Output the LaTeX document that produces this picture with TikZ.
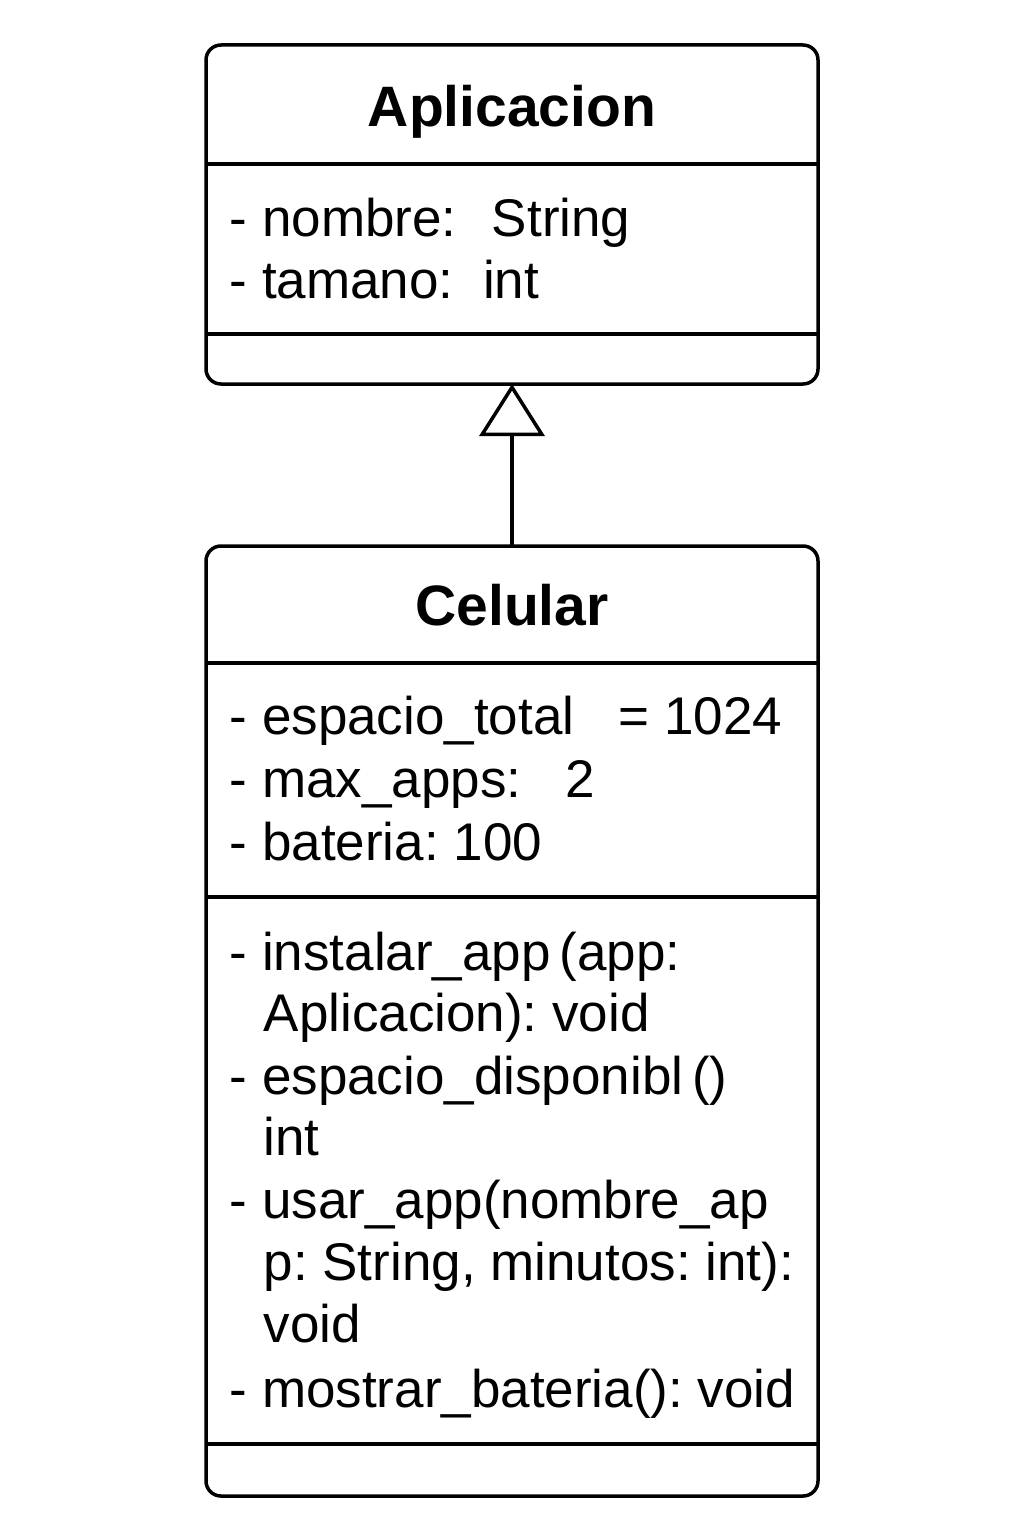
\documentclass[tikz,border=0pt]{standalone}
\usepackage{fontspec}
\setmainfont{Liberation Sans}
\usetikzlibrary{arrows.meta}
\frenchspacing
\begin{document}
\begin{tikzpicture}[x=1pt,y=-1pt, line width=3.5pt,
  classbox/.style={draw, rounded corners=15pt, inner sep=0pt, outer sep=0pt},
  txt/.style={anchor=base west, inner sep=0pt, font=\fontsize{53}{60}\selectfont\frenchspacing},
  ttl/.style={anchor=base, inner sep=0pt, font=\fontsize{57}{60}\selectfont\bfseries},
  inherit/.style={-{Triangle[open, length=52pt, width=65pt]}}]
\useasboundingbox (0,0) rectangle (1024,1536);
% Aplicacion
\node[classbox, minimum width=612pt, minimum height=339pt] (app) at (512,214.5) {};
\draw (206,164) -- (818,164);
\draw (206,334) -- (818,334);
\node[ttl] (appT) at (512,127) {Aplicacion};
\node[txt] (a1) at (228,236) {- nombre:~~\hspace{6pt}String};
\node[txt] (a2) at (228,298) {- tamano:~~int};
% Celular
\node[classbox, minimum width=612pt, minimum height=950pt] (cel) at (512,1021) {};
\draw (206,663) -- (818,663);
\draw (206,897) -- (818,897);
\draw (206,1444) -- (818,1444);
\node[ttl] (celT) at (512,625) {Celular};
\node[txt] (c1) at (228,734) {- espacio\_total~~~= 1024};
\node[txt] (c2) at (228,797) {- max\_apps:~~~2};
\node[txt] (c3) at (228,860) {- bateria: 100};
\node[txt] (m1) at (228,970) {- instalar\_app\,(app:};
\node[txt] (m1b) at (262,1031) {Aplicacion): void};
\node[txt] (m2) at (228,1094) {- espacio\_disponibl\,()};
\node[txt] (m2b) at (262,1155) {int};
\node[txt] (m3) at (228,1218) {- usar\_app(nombre\_ap};
\node[txt] (m3b) at (262,1280) {p: String, minutos: int):};
\node[txt] (m3c) at (262,1342) {void};
\node[txt] (m4) at (228,1407) {- mostrar\_bateria(): void};
% inheritance
\draw[inherit] (cel.north) -- (app.south);
\end{tikzpicture}
\end{document}
